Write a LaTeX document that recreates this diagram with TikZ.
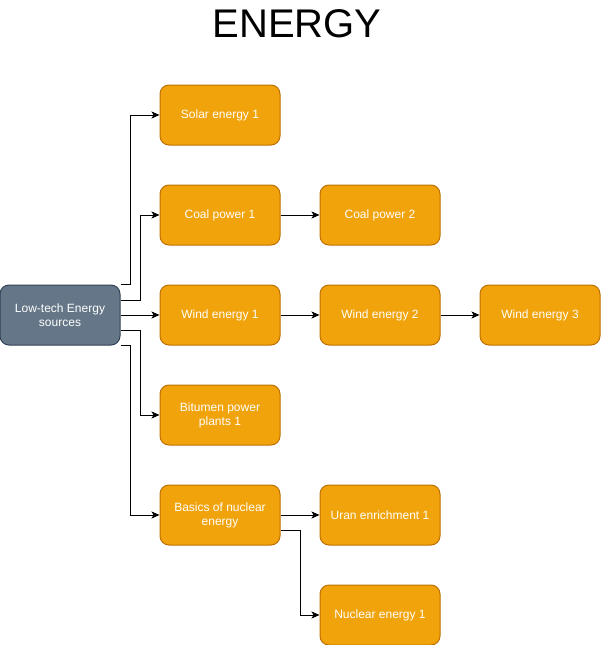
\documentclass[tikz,border=0pt]{standalone}
\usepackage{fontspec}
\setmainfont{Liberation Sans}
\usetikzlibrary{arrows.meta,positioning}
\definecolor{amber}{HTML}{F0A30A}
\definecolor{amberline}{HTML}{BD7000}
\definecolor{slate}{HTML}{647687}
\definecolor{slateline}{HTML}{314354}
\tikzset{
    topic/.style={
           rectangle, rounded corners=9pt,
           draw=amberline, fill=amber, line width=1pt,
           minimum height=60pt,
           minimum width=120pt,
           text=white, align=center,
           font=\fontsize{12}{14}\selectfont
           },
    root/.style={
           topic,
           draw=slateline, fill=slate
           },
    link/.style={
           draw=black, line width=1pt,
           -{Stealth[length=8pt,width=7pt,inset=2pt]}
           }
}
\begin{document}
\begin{tikzpicture}[node distance=100pt and 160pt, on grid]
   \useasboundingbox (0pt,0pt) rectangle (601pt,-645pt);
   \node (title) at (297pt,-24pt) {\fontsize{40}{44}\selectfont ENERGY};

   \node[root] (src) at (60pt,-315pt) {Low-tech Energy\\sources};
   \node[topic] (wind1) [right=of src] {Wind energy 1};
   \node[topic] (coal1) [above=of wind1] {Coal power 1};
   \node[topic] (solar) [above=of coal1] {Solar energy 1};
   \node[topic] (bitumen) [below=of wind1] {Bitumen power\\plants 1};
   \node[topic] (nucbase) [below=of bitumen] {Basics of nuclear\\energy};
   \node[topic] (coal2) [right=of coal1] {Coal power 2};
   \node[topic] (wind2) [right=of wind1] {Wind energy 2};
   \node[topic] (wind3) [right=of wind2] {Wind energy 3};
   \node[topic] (uran) [right=of nucbase] {Uran enrichment 1};
   \node[topic] (nuclear) [below=of uran] {Nuclear energy 1};

   % from the root
   \draw[link] (src.north east) -- ++(10pt,0) |- (solar);
   \draw[link] ([yshift=15pt]src.east) -- ++(20pt,0) |- (coal1);
   \draw[link] (src) -- (wind1);
   \draw[link] ([yshift=-15pt]src.east) -- ++(20pt,0) |- (bitumen);
   \draw[link] (src.south east) -- ++(10pt,0) |- (nucbase);

   % chains
   \draw[link] (coal1) -- (coal2);
   \draw[link] (wind1) -- (wind2);
   \draw[link] (wind2) -- (wind3);
   \draw[link] (nucbase) -- (uran);
   \draw[link] ([yshift=-15pt]nucbase.east) -- ++(20pt,0) |- (nuclear);
\end{tikzpicture}
\end{document}
